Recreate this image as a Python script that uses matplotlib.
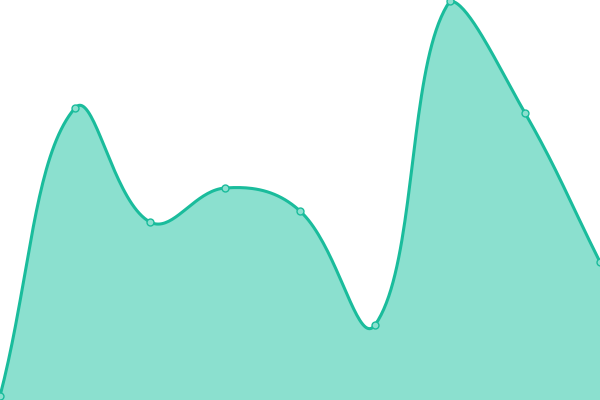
import matplotlib
matplotlib.use("Agg")
import matplotlib.pyplot as plt
import numpy as np

# category index and values (chart height 0..400)
positions = [0, 1, 2, 3, 4, 5, 6, 7, 8]
values = [4, 292, 178, 212, 189, 75, 399, 287, 138]

line_color = "#1abc9c"
fill_color = "#8be0cf"

X_SCALE = 75.0  # pixels per category step, y units already pixels


def spline(xs, ys, tension=0.4, steps=40):
    # bezier spline with distance-weighted control points, computed in pixel space
    pts = np.column_stack([np.asarray(xs, float) * X_SCALE, np.asarray(ys, float)])
    n = len(pts)
    cp_prev = np.zeros_like(pts)
    cp_next = np.zeros_like(pts)
    for i in range(n):
        prev = pts[max(i - 1, 0)]
        cur = pts[i]
        nxt = pts[min(i + 1, n - 1)]
        d01 = np.hypot(*(cur - prev))
        d12 = np.hypot(*(nxt - cur))
        tot = d01 + d12
        s01 = d01 / tot if tot else 0
        s12 = d12 / tot if tot else 0
        cp_prev[i] = cur - tension * s01 * (nxt - prev)
        cp_next[i] = cur + tension * s12 * (nxt - prev)
    lo = np.array([0, 0])
    hi = np.array([8 * X_SCALE, 400])
    cp_prev = np.clip(cp_prev, lo, hi)
    cp_next = np.clip(cp_next, lo, hi)
    t = np.linspace(0, 1, steps, endpoint=False)[:, None]
    out = []
    for i in range(n - 1):
        p0, p1, p2, p3 = pts[i], cp_next[i], cp_prev[i + 1], pts[i + 1]
        out.append((1 - t) ** 3 * p0 + 3 * (1 - t) ** 2 * t * p1
                   + 3 * (1 - t) * t ** 2 * p2 + t ** 3 * p3)
    out.append(pts[-1:])
    curve = np.vstack(out)
    return curve[:, 0] / X_SCALE, curve[:, 1]


sx, sy = spline(positions, values)

fig = plt.figure(figsize=(6, 4), dpi=100)
ax = fig.add_axes([0, 0, 1, 1])
ax.fill_between(sx, sy, 0, color=fill_color, linewidth=0)
ax.plot(sx, sy, color=line_color, linewidth=2.2, solid_capstyle="round")
ax.plot(positions, values, "o", markersize=5, markerfacecolor=fill_color,
        markeredgecolor=line_color, markeredgewidth=1)
ax.set_xlim(0, 8)
ax.set_ylim(0, 400)
ax.axis("off")

fig.savefig("out.png", dpi=100)
